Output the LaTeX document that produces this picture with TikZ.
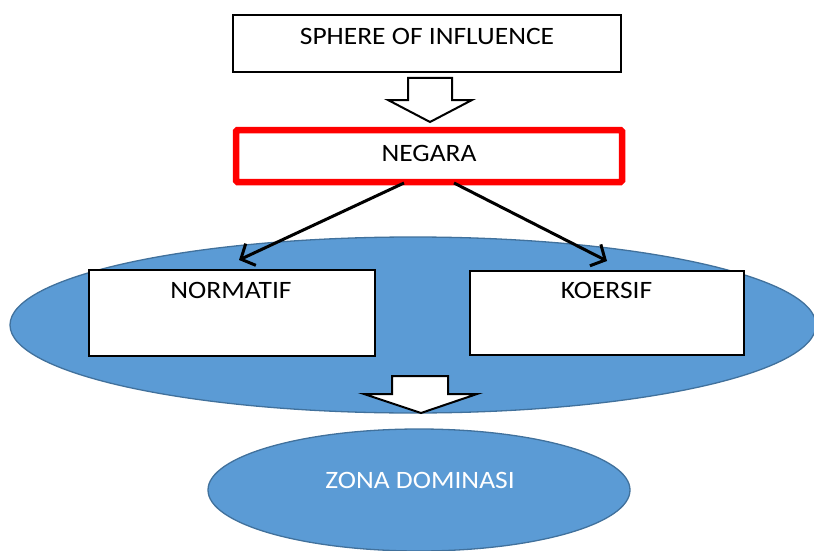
\documentclass[tikz,border=0pt]{standalone}
\usepackage{fontspec}
\setmainfont{Carlito}[FakeStretch=1.1]
\usetikzlibrary{shapes.geometric,arrows.meta}
\definecolor{blobfill}{HTML}{5B9BD5}
\definecolor{blobline}{HTML}{41719C}
\definecolor{negred}{HTML}{FF0000}
\tikzset{
  box/.style={draw=black, line width=2pt, fill=white, inner sep=0pt},
  redbox/.style={draw=negred, line width=6.5pt, fill=white, inner sep=0pt, rounded corners=1.5pt},
  blob/.style={ellipse, draw=blobline, line width=1.3pt, fill=blobfill, inner sep=0pt},
  txt/.style={inner sep=0pt, font=\fontsize{25}{30}\selectfont},
  hollow/.style={draw=black, line width=2pt, fill=white, line join=miter},
  link/.style={draw=black, line width=3pt, -{Straight Barb[length=11pt,width=24pt,line width=3pt]}}
}
\begin{document}
\begin{tikzpicture}[x=1pt,y=-1pt]
\useasboundingbox (0,0) rectangle (814,551);
% big ellipse
\node[blob, minimum width=806pt, minimum height=176pt] (big) at (413,325) {};
% zona ellipse
\node[blob, minimum width=422pt, minimum height=122pt] (zona) at (419,490) {};
\node[txt, text=white] (zonatxt) at (420,480) {ZONA DOMINASI};
% sphere box
\node[box, minimum width=388pt, minimum height=57pt] (sphere) at (427,43.5) {};
\node[txt] (spheretxt) at (427,36) {SPHERE OF INFLUENCE};
% hollow arrow 1
\draw[hollow] (408,78) -- (452,78) -- (452,100) -- (472,100) -- (430,122) -- (388,100) -- (408,100) -- cycle;
% negara
\node[redbox, minimum width=386pt, minimum height=52pt] (negara) at (429,156) {};
\node[txt] (negaratxt) at (429,153.5) {NEGARA};
% normatif / koersif boxes
\node[box, minimum width=286pt, minimum height=86pt] (normatif) at (232,312.5) {};
\node[txt] (normtxt) at (231,290.5) {NORMATIF};
\node[box, minimum width=274pt, minimum height=84pt] (koersif) at (607,313) {};
\node[txt] (koertxt) at (606.5,290.5) {KOERSIF};
% arrows
\coordinate (nl) at (404,183);
\coordinate (nr) at (454,183);
\coordinate (tl) at (239,260);
\coordinate (tr) at (607,261);
\draw[link] (nl) -- (tl);
\draw[link] (nr) -- (tr);
% hollow arrow 2
\draw[hollow] (392,376) -- (448,376) -- (448,394) -- (477,394) -- (421,413) -- (364,394) -- (392,394) -- cycle;
\end{tikzpicture}
\end{document}
